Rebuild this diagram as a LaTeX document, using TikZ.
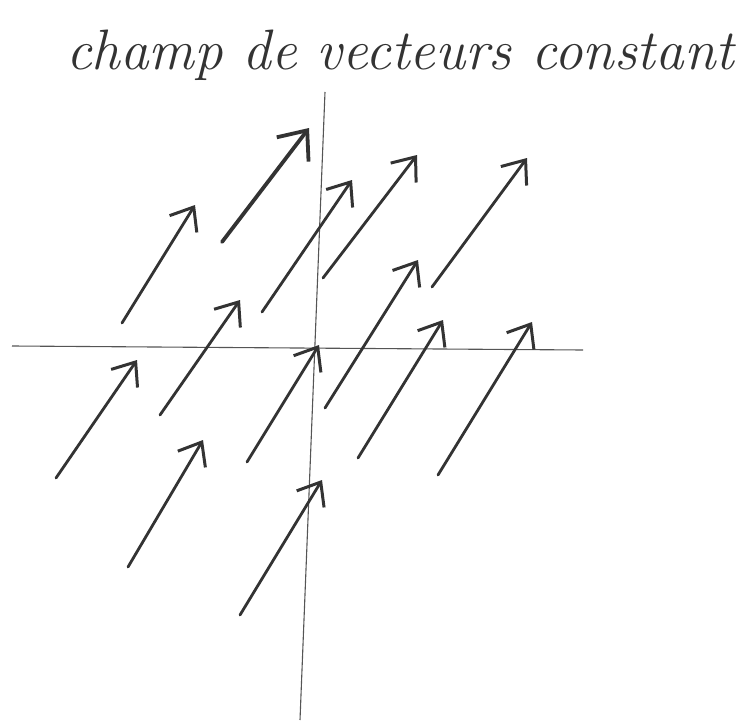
\documentclass[tikz,border=0pt]{standalone}
\usetikzlibrary{arrows.meta}
\definecolor{pencil}{HTML}{333333}
\definecolor{axisgray}{HTML}{555555}
\tikzset{
  vec/.style={pencil, line width=2.8pt, line cap=round, -{Straight Barb[length=20pt, width=32pt, line width=3pt]}},
  bigvec/.style={vec, line width=3.8pt, -{Straight Barb[length=24pt, width=40pt, line width=3.8pt]}},
  axe/.style={axisgray, line width=1.1pt},
}
\begin{document}
\begin{tikzpicture}[x=1pt, y=-1pt]
    \useasboundingbox (0,0) rectangle (750,725);
    % title
    \node[anchor=base, pencil, font=\fontsize{57}{64}\selectfont\itshape] (titre) at (400,70) {champ de vecteurs constant};
    % axes
    \coordinate (xg) at (12,346);
    \coordinate (xd) at (583,350);
    \coordinate (yh) at (325,92);
    \coordinate (yb) at (300,720);
    \draw[axe] (xg) -- (xd);
    \draw[axe] (yh) -- (yb);
    % vectors (start / tip)
    \draw[bigvec] (222,242) -- (309,128);
    \foreach \sx/\sy/\tx/\ty in {122/323/195/205, 262/312/352/180,
                                 323/278/417/155, 432/287/527/158,
                                 160/415/240/300, 325/408/418/260,
                                 56/478/137/360, 247/462/319/345,
                                 358/458/443/320, 438/475/532/322,
                                 128/567/203/440, 240/615/322/480} {
        \draw[vec] (\sx,\sy) -- (\tx,\ty);
    }
\end{tikzpicture}
\end{document}
